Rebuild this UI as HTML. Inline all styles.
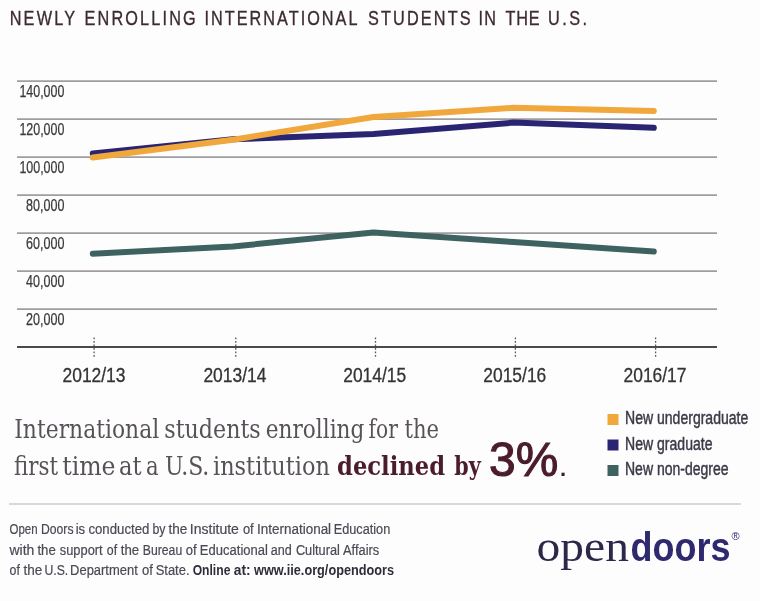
<!DOCTYPE html>
<html><head><meta charset="utf-8">
<style>
html,body{margin:0;padding:0;background:#fefdfe;}
body{width:760px;height:601px;overflow:hidden;}
svg{display:block;}
.s{font-family:"Liberation Sans",sans-serif;}
.sf{font-family:"DejaVu Serif Condensed","DejaVu Serif","Liberation Serif",serif;}
</style></head>
<body>
<svg width="760" height="601" viewBox="0 0 760 601">
<rect width="760" height="601" fill="#fefdfe"/>
<!-- title -->
<g class="s" font-size="20.3" fill="#3d2a33" stroke="#3d2a33" stroke-width="0.35">
<text transform="translate(9.7 24.9) scale(0.8 1)" x="0" y="0" letter-spacing="2.75">NEWLY</text>
<text transform="translate(84.5 24.9) scale(0.8 1)" x="0" y="0" letter-spacing="2.72">ENROLLING</text>
<text transform="translate(204.5 24.9) scale(0.8 1)" x="0" y="0" letter-spacing="2.53">INTERNATIONAL</text>
<text transform="translate(367.9 24.9) scale(0.8 1)" x="0" y="0" letter-spacing="2.73">STUDENTS</text>
<text transform="translate(478.4 24.9) scale(0.8 1)" x="0" y="0" letter-spacing="1.75">IN</text>
<text transform="translate(505.5 24.9) scale(0.8 1)" x="0" y="0" letter-spacing="1.0">THE</text>
<text transform="translate(548.1 24.9) scale(0.8 1)" x="0" y="0" letter-spacing="3.04">U.S.</text>
</g>
<!-- gridlines -->
<g stroke="#9f9d9f" stroke-width="1.7">
<line x1="17" y1="81.2" x2="717" y2="81.2"/>
<line x1="17" y1="119.2" x2="717" y2="119.2"/>
<line x1="17" y1="157.2" x2="717" y2="157.2"/>
<line x1="17" y1="195.2" x2="717" y2="195.2"/>
<line x1="17" y1="233.2" x2="717" y2="233.2"/>
<line x1="17" y1="271.2" x2="717" y2="271.2"/>
<line x1="17" y1="309.2" x2="717" y2="309.2"/>
</g>
<line x1="17" y1="347" x2="717" y2="347" stroke="#4b494b" stroke-width="2.2"/>
<g stroke="#5a585a" stroke-width="1.3" stroke-dasharray="1.6 1.9">
<line x1="94.1" y1="337.6" x2="94.1" y2="357.4"/>
<line x1="235.8" y1="337.6" x2="235.8" y2="357.4"/>
<line x1="375.5" y1="337.6" x2="375.5" y2="357.4"/>
<line x1="515.4" y1="337.6" x2="515.4" y2="357.4"/>
<line x1="655.6" y1="337.6" x2="655.6" y2="357.4"/>
</g>
<!-- y labels -->
<g class="s" font-size="16.3" fill="#3a3a3a" stroke="#3a3a3a" stroke-width="0.25" text-anchor="end">
<text x="64.4" y="97.1" textLength="45" lengthAdjust="spacingAndGlyphs">140,000</text>
<text x="64.4" y="135.1" textLength="45" lengthAdjust="spacingAndGlyphs">120,000</text>
<text x="64.4" y="173.1" textLength="45" lengthAdjust="spacingAndGlyphs">100,000</text>
<text x="64.4" y="211.1" textLength="38.4" lengthAdjust="spacingAndGlyphs">80,000</text>
<text x="64.4" y="249.1" textLength="38.4" lengthAdjust="spacingAndGlyphs">60,000</text>
<text x="64.4" y="287.1" textLength="38.4" lengthAdjust="spacingAndGlyphs">40,000</text>
<text x="64.4" y="325.1" textLength="38.4" lengthAdjust="spacingAndGlyphs">20,000</text>
</g>
<!-- x labels -->
<g class="s" font-size="19.7" fill="#333" stroke="#333" stroke-width="0.3" text-anchor="middle">
<text x="94" y="381.5" textLength="63" lengthAdjust="spacingAndGlyphs">2012/13</text>
<text x="234.9" y="381.5" textLength="63" lengthAdjust="spacingAndGlyphs">2013/14</text>
<text x="374.7" y="381.5" textLength="63" lengthAdjust="spacingAndGlyphs">2014/15</text>
<text x="514.8" y="381.5" textLength="63" lengthAdjust="spacingAndGlyphs">2015/16</text>
<text x="655" y="381.5" textLength="63" lengthAdjust="spacingAndGlyphs">2016/17</text>
</g>
<!-- data lines -->
<g fill="none" stroke-width="6" stroke-linecap="round" stroke-linejoin="round">
<polyline stroke="#3e625f" points="92.8,253.7 233,246.4 373.5,232.6 513.5,242.1 653.8,251.6"/>
<polyline stroke="#2a2572" points="92.8,153.5 233,139.3 373.5,134 513.5,122.6 653.8,127.8"/>
<polyline stroke="#f0a73c" points="92.8,157.5 233,139.7 373.5,117 513.5,107.8 653.8,110.9"/>
</g>
<!-- headline -->
<g class="sf" font-size="25.3" fill="#575257">
<text x="14.24" y="438.3" textLength="144.9" lengthAdjust="spacingAndGlyphs">International</text>
<text x="164.33" y="438.3" textLength="96.33" lengthAdjust="spacingAndGlyphs">students</text>
<text x="265.75" y="438.3" textLength="98.58" lengthAdjust="spacingAndGlyphs">enrolling</text>
<text x="368.61" y="438.3" textLength="29.3" lengthAdjust="spacingAndGlyphs">for</text>
<text x="404.47" y="438.3" textLength="34.62" lengthAdjust="spacingAndGlyphs">the</text>
<text x="13.96" y="474.5" textLength="44.04" lengthAdjust="spacingAndGlyphs">first</text>
<text x="62.16" y="474.5" textLength="53.36" lengthAdjust="spacingAndGlyphs">time</text>
<text x="119.0" y="474.5" textLength="22.6" lengthAdjust="spacingAndGlyphs">at</text>
<text x="145.97" y="474.5" textLength="12.66" lengthAdjust="spacingAndGlyphs">a</text>
<text x="164.93" y="474.5" textLength="44.4" lengthAdjust="spacingAndGlyphs">U.S.</text>
<text x="213.01" y="474.5" textLength="116.89" lengthAdjust="spacingAndGlyphs">institution</text>
</g>
<g class="sf" font-size="26" font-weight="bold" fill="#4a1c2c">
<text x="337.03" y="474.5" textLength="108.15" lengthAdjust="spacingAndGlyphs">declined</text>
<text x="454.2" y="474.5" textLength="26.47" lengthAdjust="spacingAndGlyphs">by</text>
</g>
<text class="s" x="489.0" y="476" font-size="49" fill="#4a1c2c" stroke="#4a1c2c" stroke-width="1.1" textLength="69.2" lengthAdjust="spacingAndGlyphs">3%</text>
<text class="s" x="560" y="475.8" font-size="22" font-weight="bold" fill="#3e1a28">.</text>
<!-- legend -->
<rect x="607.5" y="414" width="11" height="11" fill="#f0a73c"/>
<rect x="607.5" y="439.5" width="11" height="11" fill="#2a2572"/>
<rect x="607.5" y="465" width="11" height="11" fill="#3e625f"/>
<g class="s" font-size="17.5" fill="#3a3a48" stroke="#3a3a48" stroke-width="0.45">
<text x="625" y="424.2" textLength="123.3" lengthAdjust="spacingAndGlyphs">New undergraduate</text>
<text x="625" y="449.7" textLength="87.5" lengthAdjust="spacingAndGlyphs">New graduate</text>
<text x="625" y="475" textLength="103.6" lengthAdjust="spacingAndGlyphs">New non-degree</text>
</g>
<!-- divider -->
<line x1="9" y1="504" x2="741" y2="504" stroke="#cdcdcd" stroke-width="1.4"/>
<!-- footer -->
<g class="s" font-size="14" fill="#4a4a55" stroke="#4a4a55" stroke-width="0.2">
<text x="9.5" y="534.2" textLength="28.11" lengthAdjust="spacingAndGlyphs">Open</text>
<text x="41.03" y="534.2" textLength="32.48" lengthAdjust="spacingAndGlyphs">Doors</text>
<text x="75.67" y="534.2" textLength="9.45" lengthAdjust="spacingAndGlyphs">is</text>
<text x="88.4" y="534.2" textLength="60.98" lengthAdjust="spacingAndGlyphs">conducted</text>
<text x="152.52" y="534.2" textLength="13.0" lengthAdjust="spacingAndGlyphs">by</text>
<text x="168.5" y="534.2" textLength="18.85" lengthAdjust="spacingAndGlyphs">the</text>
<text x="189.8" y="534.2" textLength="49.13" lengthAdjust="spacingAndGlyphs">Institute</text>
<text x="242.9" y="534.2" textLength="10.81" lengthAdjust="spacingAndGlyphs">of</text>
<text x="257.04" y="534.2" textLength="74.08" lengthAdjust="spacingAndGlyphs">International</text>
<text x="333.69" y="534.2" textLength="56.56" lengthAdjust="spacingAndGlyphs">Education</text>
<text x="9.5" y="555" textLength="24.91" lengthAdjust="spacingAndGlyphs">with</text>
<text x="37.4" y="555" textLength="18.34" lengthAdjust="spacingAndGlyphs">the</text>
<text x="59.8" y="555" textLength="42.83" lengthAdjust="spacingAndGlyphs">support</text>
<text x="106.8" y="555" textLength="10.32" lengthAdjust="spacingAndGlyphs">of</text>
<text x="120.8" y="555" textLength="18.34" lengthAdjust="spacingAndGlyphs">the</text>
<text x="142.83" y="555" textLength="39.38" lengthAdjust="spacingAndGlyphs">Bureau</text>
<text x="185.7" y="555" textLength="10.91" lengthAdjust="spacingAndGlyphs">of</text>
<text x="199.87" y="555" textLength="68.02" lengthAdjust="spacingAndGlyphs">Educational</text>
<text x="270.7" y="555" textLength="21.02" lengthAdjust="spacingAndGlyphs">and</text>
<text x="295.9" y="555" textLength="43.93" lengthAdjust="spacingAndGlyphs">Cultural</text>
<text x="343.0" y="555" textLength="36.2" lengthAdjust="spacingAndGlyphs">Affairs</text>
<text x="9.5" y="574.7" textLength="10.32" lengthAdjust="spacingAndGlyphs">of</text>
<text x="23.5" y="574.7" textLength="18.85" lengthAdjust="spacingAndGlyphs">the</text>
<text x="44.43" y="574.7" textLength="23.75" lengthAdjust="spacingAndGlyphs">U.S.</text>
<text x="70.08" y="574.7" textLength="67.67" lengthAdjust="spacingAndGlyphs">Department</text>
<text x="142.0" y="574.7" textLength="10.91" lengthAdjust="spacingAndGlyphs">of</text>
<text x="155.67" y="574.7" textLength="33.88" lengthAdjust="spacingAndGlyphs">State.</text>
</g>
<g class="s" font-size="14" font-weight="bold" fill="#2e2e3a">
<text x="192.63" y="574.7" textLength="37.75" lengthAdjust="spacingAndGlyphs">Online</text>
<text x="233.8" y="574.7" textLength="16.8" lengthAdjust="spacingAndGlyphs">at:</text>
<text x="254.0" y="574.7" textLength="140.06" lengthAdjust="spacingAndGlyphs">www.iie.org/opendoors</text>
</g>
<!-- logo -->
<text x="536.6" y="561.2" font-family="Liberation Serif,serif" font-size="43.5" fill="#2c2848" textLength="92.3" lengthAdjust="spacingAndGlyphs">open</text>
<text x="630.5" y="561.2" font-family="Liberation Sans,sans-serif" font-weight="bold" font-size="40" fill="#2f2a6e" textLength="100" lengthAdjust="spacingAndGlyphs">doors</text>
<text x="731.5" y="539.6" font-family="Liberation Sans,sans-serif" font-size="11" fill="#2f2a6e">®</text>
</svg>
</body></html>
